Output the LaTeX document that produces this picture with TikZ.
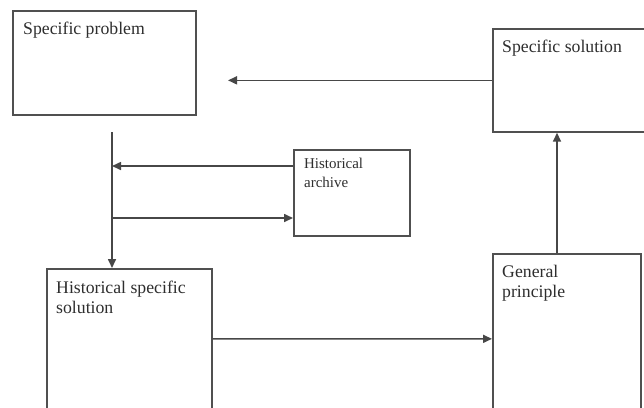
\documentclass[tikz,border=0pt]{standalone}
\usepackage{fontspec}
\setmainfont{Liberation Serif}
\usetikzlibrary{arrows.meta}
\definecolor{linec}{HTML}{505050}
\definecolor{textc}{HTML}{2E2E2E}
\begin{document}
\begin{tikzpicture}[x=1bp,y=-1bp,
  box/.style={draw=linec,line width=1.7bp,rectangle,inner sep=0,anchor=north west},
  txt/.style={inner sep=0,anchor=north west,align=left,text=textc,font=\fontsize{17.8}{20}\selectfont},
  smalltxt/.style={txt,font=\fontsize{15}{19}\selectfont},
  arr/.style={draw=black!72,line width=1.6bp,-{Triangle[length=9bp,width=8bp]}}]
\useasboundingbox (0,0) rectangle (644,407);
\clip (0,0) rectangle (644,407);
\fill[white] (0,0) rectangle (644,407);
% boxes
\node[box,minimum width=183bp,minimum height=104bp] (sp) at (12,10) {};
\node[box,minimum width=160bp,minimum height=103bp] (ss) at (492,28) {};
\node[box,minimum width=116bp,minimum height=86bp] (arch) at (293,149) {};
\node[box,minimum width=165bp,minimum height=140bp] (hss) at (46,268) {};
\node[box,minimum width=148bp,minimum height=170bp] (gp) at (492,253) {};
% texts
\node[txt] (tsp) at (23,22) {Specific problem};
\node[txt] (tss) at (502,40) {Specific solution};
\node[smalltxt] (tarch) at (304,158) {Historical\\archive};
\node[txt] (thss) at (56,281) {Historical specific\\solution};
\node[txt] (tgp) at (502,265) {General\\principle};
% helper coordinates
\coordinate (vtop) at (112,132);
\coordinate (vin) at (112,166);
\coordinate (vout) at (112,218);
\coordinate (lend) at (228,0);
% connectors
\draw[arr] (ss.west) -- (lend |- ss.west);
\draw[arr] (vtop) -- (vtop |- hss.north);
\draw[arr] (arch.west |- vin) -- (vin);
\draw[arr] (vout) -- (arch.west |- vout);
\draw[arr] (hss.east) -- (gp.west);
\draw[arr] ([xshift=65bp]gp.north west) -- ([xshift=65bp]gp.north west |- ss.south);
\end{tikzpicture}
\end{document}
